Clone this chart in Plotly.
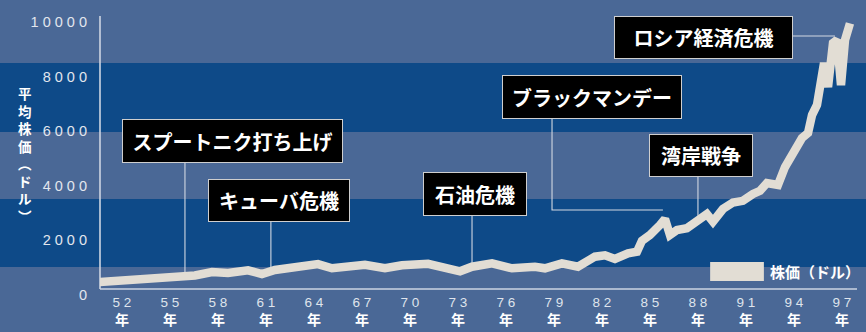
import plotly.graph_objects as go

# ---- data ----
years = [1950.56, 1951.25, 1952.38, 1953.44, 1954.5, 1955.31, 1955.94, 1956.56, 1957.63,
         1958.63, 1959.88, 1960.75, 1961.56, 1962.38, 1963.13, 1964.25, 1965.13, 1966.25,
         1967.19, 1968.44, 1969.5, 1971.13, 1972.19, 1973.13, 1973.88, 1974.38, 1975.13,
         1976.38, 1977.81, 1978.44, 1979.5, 1980.5, 1981.56, 1982.19, 1982.81, 1983.63,
         1984.19, 1984.5, 1985.0, 1985.63, 1985.94, 1986.25, 1986.69, 1987.31, 1987.94,
         1988.56, 1988.94, 1989.56, 1990.19, 1990.81, 1991.44, 1991.88, 1992.31, 1993.0,
         1993.44, 1994.06, 1994.5, 1994.88, 1995.13, 1995.44, 1995.75, 1995.88, 1996.13,
         1996.44, 1996.69, 1996.94, 1997.19, 1997.5]
prices = [476, 506, 575, 630, 685, 700, 670, 714, 842,
          806, 905, 769, 916, 978, 1037, 1130, 978, 1055,
          1110, 978, 1088, 1142, 1026, 868, 1037, 1099, 1160,
          978, 1037, 978, 1160, 1037, 1403, 1454, 1318, 1527,
          1586, 1985, 2198, 2564, 2784, 2198, 2381, 2443, 2685,
          2967, 2685, 3150, 3388, 3450, 3700, 3817, 4103, 4029,
          4689, 5311, 5751, 5934, 6593, 6960, 8132, 8498, 7619,
          9231, 9341, 7692, 9341, 9951]

series_name = "株価（ドル）"
y_tick_values = [0, 2000, 4000, 6000, 8000, 10000]
y_tick_labels = ["0", "2 0 0 0", "4 0 0 0", "6 0 0 0", "8 0 0 0", "1 0 0 0 0"]
x_tick_values = [1952, 1955, 1958, 1961, 1964, 1967, 1970, 1973, 1976, 1979, 1982, 1985,
                 1988, 1991, 1994, 1997]
x_tick_labels = ["5 2", "5 5", "5 8", "6 1", "6 4", "6 7", "7 0", "7 3", "7 6", "7 9", "8 2", "8 5",
                 "8 8", "9 1", "9 4", "9 7"]
x_unit_label = "年"
y_title = "平<br>均<br>株<br>価<br>︵<br>ド<br>ル<br>︶"

event_labels = ["スプートニク打ち上げ", "キューバ危機", "石油危機", "ブラックマンデー", "湾岸戦争", "ロシア経済危機"]
event_box_x = [1958.91, 1961.81, 1974.06, 1981.38, 1988.19, 1988.34]
event_box_y = [5641, 3462, 3700, 7253, 5110, 9432]
event_box_w = [221, 142, 104, 180, 104, 179]
event_box_h = [44, 43, 44, 44, 43, 43]

# ---- styling ----
LIGHT = "#4a6896"
DARK = "#0e4a88"
LINE = "#e2ddd4"
LEADER = "#d2d8e2"
CJK = "Noto Sans CJK JP"
NUM = "Liberation Sans, Arial, Noto Sans CJK JP"
XR = [1950.63, 1997.94]

fig = go.Figure()
fig.add_trace(go.Scatter(x=years, y=prices, mode="lines", name=series_name,
                         line=dict(color=LINE, width=8.5), showlegend=False,
                         hoverinfo="skip"))

shapes = []
for y0, y1 in [(0.1004, 0.3441), (0.5842, 0.8315)]:
    shapes.append(dict(type="rect", xref="paper", yref="paper", x0=-0.2, x1=1.1,
                       y0=y0, y1=y1, fillcolor=DARK, line=dict(width=0), layer="below"))
shapes.append(dict(type="line", xref="paper", yref="paper", x0=0, x1=1, y0=0.0215, y1=0.0215,
                   line=dict(color="#cdd5e2", width=1.6), layer="below"))
shapes.append(dict(type="line", xref="paper", yref="paper", x0=0, x1=0, y0=0.0215, y1=1,
                   line=dict(color="#cdd5e2", width=1.6), layer="below"))
leaders = [
    [(1955.94, 4835), (1955.94, 700)],
    [(1961.31, 2674), (1961.31, 850)],
    [(1973.88, 2894), (1973.88, 1000)],
    [(1978.88, 6447), (1978.88, 3114), (1985.81, 3114)],
    [(1988.0, 4322), (1988.0, 2900)],
    [(1993.94, 9487), (1996.56, 9487)],
]
for pts in leaders:
    path = "M " + " L ".join(f"{px},{py}" for px, py in pts)
    shapes.append(dict(type="path", xref="x", yref="y", path=path,
                       line=dict(color=LEADER, width=1.1), layer="below"))
shapes.append(dict(type="rect", xref="paper", yref="paper", x0=0.806, x1=0.877,
                   y0=0.050, y1=0.118, fillcolor=LINE, line=dict(width=0), layer="above"))

annotations = []
for lab, bx, by, bw, bh in zip(event_labels, event_box_x, event_box_y, event_box_w, event_box_h):
    annotations.append(dict(x=bx, y=by, xref="x", yref="y", text=f"<b>{lab}</b>",
                            showarrow=False, xanchor="center", yanchor="middle",
                            width=bw - 2, height=bh - 2, bgcolor="#000000",
                            bordercolor="#cfcfcf", borderwidth=1, borderpad=0,
                            font=dict(family=CJK, size=20, color="#ffffff")))
annotations.append(dict(x=0.882, y=0.084, xref="paper", yref="paper",
                        text=f"<b>{series_name}</b>", showarrow=False,
                        xanchor="left", yanchor="middle",
                        font=dict(family=CJK, size=15, color="#ffffff")))
annotations.append(dict(x=-0.099, y=0.505, xref="paper", yref="paper", text=f"<b>{y_title}</b>",
                        showarrow=False, xanchor="center", yanchor="middle",
                        font=dict(family=CJK, size=13.5, color="#ffffff")))
# "年" under each year tick
for xv in x_tick_values:
    annotations.append(dict(x=xv, y=-0.085, xref="x", yref="paper", text=f"<b>{x_unit_label}</b>",
                            showarrow=False, xanchor="center", yanchor="middle",
                            font=dict(family=CJK, size=14, color="#ffffff")))

fig.update_layout(
    width=866, height=332,
    margin=dict(l=100, r=9, t=16, b=37, pad=0),
    paper_bgcolor=LIGHT, plot_bgcolor="rgba(0,0,0,0)",
    shapes=shapes, annotations=annotations,
    xaxis=dict(range=XR, tickvals=x_tick_values, ticktext=x_tick_labels,
               showgrid=False, zeroline=False, showline=False, ticks="",
               tickfont=dict(family=NUM, size=13.5, color="#dfe4ec"),
               ticklabelstandoff=-3, fixedrange=True),
    yaxis=dict(range=[0, 10220], tickvals=y_tick_values, ticktext=y_tick_labels,
               showgrid=False, zeroline=False, showline=False, ticks="",
               tickfont=dict(family=NUM, size=14.5, color="#e2e6ee"),
               ticklabelstandoff=12, fixedrange=True),
    showlegend=False,
)

fig.write_html("out.html", config={"displayModeBar": False})
